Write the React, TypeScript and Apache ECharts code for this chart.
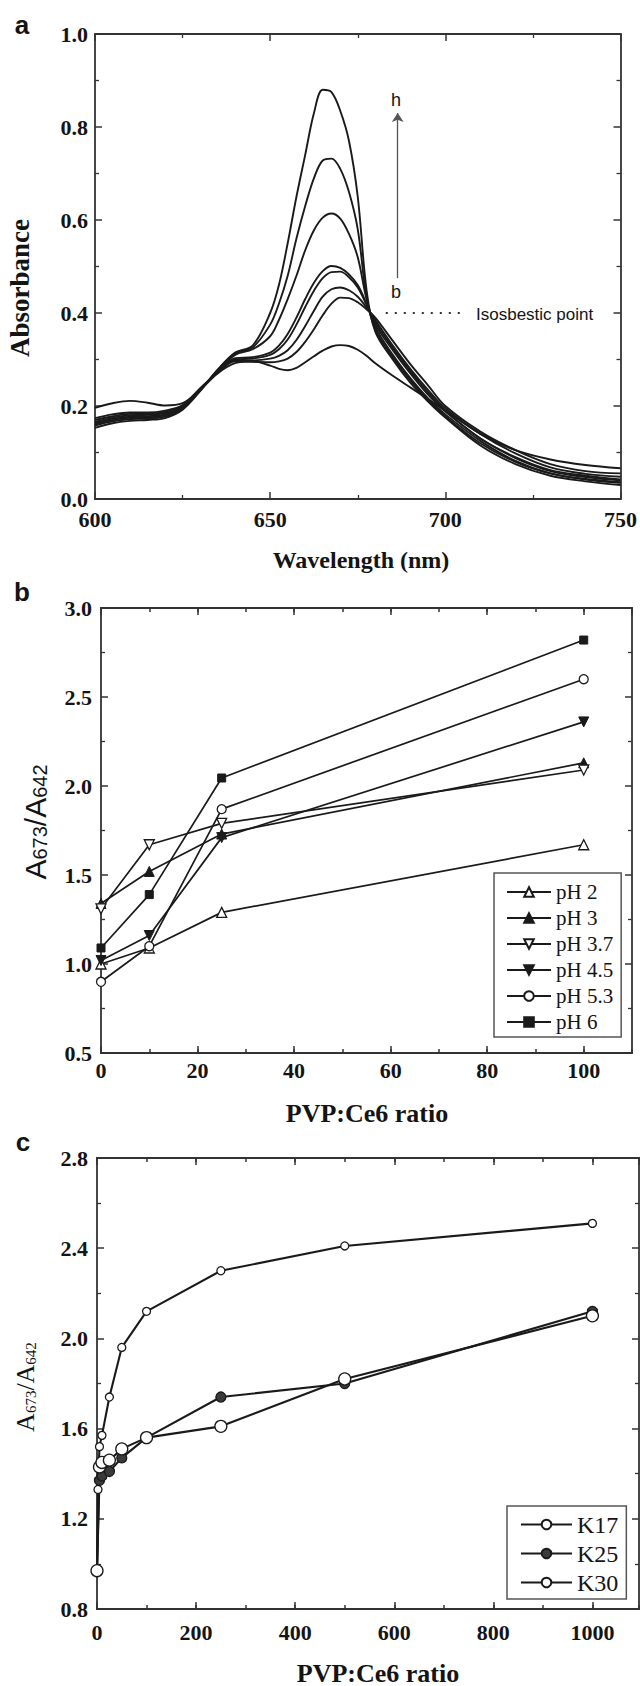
import React, { useEffect, useRef } from "react";
import * as echarts from "echarts";

// ---------- Panel a : absorption spectra ----------
const wavelengths = [600, 605, 610, 615, 620, 625, 630, 635, 640, 645, 650, 652.5, 655, 657.5, 660, 662.5, 665, 667.5, 670, 672.5, 675, 677.5, 680, 685, 690, 695, 700, 710, 720, 730, 740, 750];
const curveH = [0.153, 0.163, 0.168, 0.17, 0.174, 0.192, 0.232, 0.278, 0.315, 0.33, 0.4, 0.46, 0.55, 0.65, 0.74, 0.83, 0.88, 0.875, 0.835, 0.77, 0.65, 0.45, 0.36, 0.3, 0.25, 0.21, 0.175, 0.115, 0.075, 0.05, 0.038, 0.03];
const curveG = [0.158, 0.167, 0.172, 0.173, 0.177, 0.194, 0.233, 0.277, 0.313, 0.326, 0.375, 0.42, 0.48, 0.56, 0.63, 0.69, 0.728, 0.732, 0.71, 0.66, 0.58, 0.435, 0.365, 0.305, 0.255, 0.213, 0.178, 0.12, 0.08, 0.055, 0.042, 0.035];
const curveF = [0.16, 0.17, 0.175, 0.176, 0.18, 0.196, 0.234, 0.276, 0.31, 0.322, 0.35, 0.385, 0.43, 0.48, 0.535, 0.578, 0.605, 0.614, 0.603, 0.57, 0.52, 0.43, 0.37, 0.31, 0.26, 0.217, 0.182, 0.125, 0.082, 0.055, 0.043, 0.036];
const curveE = [0.163, 0.172, 0.177, 0.178, 0.182, 0.197, 0.235, 0.274, 0.303, 0.305, 0.315, 0.33, 0.355, 0.39, 0.43, 0.465, 0.49, 0.501, 0.497, 0.483, 0.46, 0.42, 0.375, 0.32, 0.27, 0.225, 0.188, 0.13, 0.088, 0.06, 0.047, 0.04];
const curveD = [0.166, 0.175, 0.18, 0.181, 0.185, 0.199, 0.236, 0.273, 0.3, 0.302, 0.31, 0.322, 0.343, 0.375, 0.413, 0.448, 0.475, 0.488, 0.489, 0.477, 0.455, 0.418, 0.38, 0.325, 0.275, 0.23, 0.19, 0.13, 0.09, 0.062, 0.05, 0.042];
const curveC = [0.17, 0.178, 0.183, 0.183, 0.187, 0.2, 0.237, 0.272, 0.298, 0.298, 0.302, 0.308, 0.32, 0.342, 0.372, 0.405, 0.435, 0.451, 0.455, 0.449, 0.435, 0.412, 0.385, 0.33, 0.28, 0.235, 0.195, 0.14, 0.098, 0.068, 0.054, 0.048];
const curveB = [0.174, 0.182, 0.186, 0.186, 0.19, 0.202, 0.238, 0.271, 0.296, 0.295, 0.294, 0.296, 0.302, 0.316, 0.338, 0.365, 0.395, 0.42, 0.433, 0.432, 0.423, 0.408, 0.39, 0.34, 0.29, 0.245, 0.2, 0.145, 0.105, 0.075, 0.06, 0.055];
const curveA = [0.196, 0.206, 0.211, 0.207, 0.201, 0.206, 0.235, 0.27, 0.292, 0.296, 0.287, 0.28, 0.277, 0.282, 0.294, 0.307, 0.319, 0.328, 0.331, 0.329, 0.321, 0.308, 0.292, 0.265, 0.24, 0.215, 0.19, 0.14, 0.105, 0.085, 0.073, 0.066];
const spectraNames = ["h", "g", "f", "e", "d", "c", "b", "a"];
const spectra = [curveH, curveG, curveF, curveE, curveD, curveC, curveB, curveA];
// annotation anchors (data coordinates)
const arrowWavelength = 686.4;
const arrowFrom = 0.475;
const arrowTo = 0.83;
const isosbesticValue = 0.4;
const isosbesticFrom = 683;
const isosbesticTo = 705.5;

// ---------- Panel b : ratio vs pH ----------
const ratioB = [0, 10, 25, 100];
const pH2 = [1.0, 1.09, 1.29, 1.67];
const pH3 = [1.34, 1.52, 1.73, 2.13];
const pH37 = [1.31, 1.67, 1.79, 2.09];
const pH45 = [1.02, 1.16, 1.71, 2.36];
const pH53 = [0.9, 1.1, 1.87, 2.6];
const pH6 = [1.09, 1.39, 2.045, 2.82];
const namesB = ["pH 2", "pH 3", "pH 3.7", "pH 4.5", "pH 5.3", "pH 6"];

// ---------- Panel c : ratio vs PVP grade ----------
const ratioK17 = [0, 2, 5, 10, 25, 50, 100, 250, 500, 1000];
const valK17 = [0.97, 1.33, 1.52, 1.57, 1.74, 1.96, 2.12, 2.3, 2.41, 2.51];
const ratioK25 = [0, 5, 10, 25, 50, 100, 250, 500, 1000];
const valK25 = [0.97, 1.37, 1.39, 1.41, 1.47, 1.56, 1.74, 1.8, 2.12];
const ratioK30 = [0, 5, 10, 25, 50, 100, 250, 500, 1000];
const valK30 = [0.97, 1.43, 1.45, 1.46, 1.51, 1.56, 1.61, 1.82, 2.1];
const namesC = ["K17", "K25", "K30"];

const SERIF = '"Liberation Serif", "Times New Roman", serif';
const SANS = '"Liberation Sans", Arial, sans-serif';
const INK = "#141414";
const AX = "#333333";
const LINE = "#1a1a1a";

const zip = (xs: number[], ys: number[]) => xs.map((x, i) => [x, ys[i]]);

function axis(
  gridIndex: number,
  position: string,
  min: number,
  max: number,
  interval: number,
  tickLen: number,
  label: any,
  minor: boolean
) {
  return {
    type: "value",
    gridIndex,
    position,
    min,
    max,
    interval,
    axisLine: { show: true, onZero: false, lineStyle: { color: AX, width: 1.8 } },
    axisTick: { show: true, inside: true, length: tickLen, lineStyle: { color: AX, width: 1.5 } },
    minorTick: { show: minor, splitNumber: 2, length: 4, lineStyle: { color: AX, width: 1.3 } },
    axisLabel: label
      ? {
          show: true,
          fontFamily: SERIF,
          fontWeight: "bold",
          fontSize: 22,
          color: INK,
          showMaxLabel: label.showMax !== false,
          margin: label.margin,
          formatter: label.fmt,
        }
      : { show: false },
    splitLine: { show: false },
    minorSplitLine: { show: false },
  };
}

const open = { color: "#ffffff", borderColor: LINE, borderWidth: 1.3 };
const filled = { color: LINE, borderColor: LINE, borderWidth: 1 };
const downTri = "path://M0,0L10,0L5,8.7Z";

export default function App() {
  const ref = useRef<HTMLDivElement>(null);

  useEffect(() => {
    if (!ref.current) return;
    const chart = echarts.init(ref.current, null, { renderer: "svg" });

    const fmt1 = (v: number) => v.toFixed(1);
    const fmt0 = (v: number) => String(Math.round(v));

    const xAxes = [
      // panel a (0,1)
      axis(0, "bottom", 600, 750, 50, 7, { margin: 9, fmt: fmt0 }, true),
      axis(0, "top", 600, 750, 50, 7, null, true),
      // panel b (2..5)
      axis(1, "bottom", 0, 110, 20, 7, { margin: 6, fmt: fmt0, showMax: false }, false),
      axis(1, "bottom", 0, 110, 10, 4, null, false),
      axis(1, "top", 0, 110, 20, 7, null, false),
      axis(1, "top", 0, 110, 10, 4, null, false),
      // panel c (6..9)
      axis(2, "bottom", 0, 1094, 200, 7, { margin: 12, fmt: fmt0, showMax: false }, false),
      axis(2, "bottom", 0, 1094, 100, 4, null, false),
      axis(2, "top", 0, 1094, 200, 7, null, false),
      axis(2, "top", 0, 1094, 100, 4, null, false),
    ];
    const yAxes = [
      axis(0, "left", 0, 1.0, 0.2, 7, { margin: 7, fmt: fmt1 }, true),
      axis(0, "right", 0, 1.0, 0.2, 7, null, true),
      axis(1, "left", 0.5, 3.0, 0.5, 7, { margin: 9, fmt: fmt1 }, true),
      axis(1, "right", 0.5, 3.0, 0.5, 7, null, true),
      axis(2, "left", 0.8, 2.8, 0.4, 7, { margin: 9, fmt: fmt1 }, true),
      axis(2, "right", 0.8, 2.8, 0.4, 7, null, true),
    ];

    const spectraSeries = spectra.map((vals, i) => {
      const s: any = {
        name: "curve " + spectraNames[i],
        type: "line",
        xAxisIndex: 0,
        yAxisIndex: 0,
        data: zip(wavelengths, vals),
        showSymbol: false,
        smooth: 0.35,
        lineStyle: { color: LINE, width: 1.9 },
        silent: true,
      };
      if (i === 0) {
        s.markLine = {
          silent: true,
          animation: false,
          label: { show: false },
          symbol: ["none", "arrow"],
          symbolSize: 9,
          lineStyle: { color: "#555", width: 1.3, type: "solid" },
          data: [[{ coord: [arrowWavelength, arrowFrom] }, { coord: [arrowWavelength, arrowTo] }]],
        };
      }
      if (i === 1) {
        s.markLine = {
          silent: true,
          animation: false,
          label: { show: false },
          symbol: ["none", "none"],
          lineStyle: { color: "#333", width: 2, type: [2, 7] },
          data: [[{ coord: [isosbesticFrom, isosbesticValue] }, { coord: [isosbesticTo, isosbesticValue] }]],
        };
      }
      return s;
    });

    const bDefs = [
      { name: namesB[0], vals: pH2, symbol: "triangle", size: 10, style: open },
      { name: namesB[1], vals: pH3, symbol: "triangle", size: 10, style: filled },
      { name: namesB[2], vals: pH37, symbol: downTri, size: 10, style: open },
      { name: namesB[3], vals: pH45, symbol: downTri, size: 10, style: filled },
      { name: namesB[4], vals: pH53, symbol: "circle", size: 9, style: open },
      { name: namesB[5], vals: pH6, symbol: "rect", size: 8, style: filled },
    ];
    const bSeries = bDefs.map((d) => ({
      name: d.name,
      type: "line",
      xAxisIndex: 2,
      yAxisIndex: 2,
      data: zip(ratioB, d.vals),
      symbol: d.symbol,
      symbolSize: d.size,
      showAllSymbol: true,
      lineStyle: { color: LINE, width: 1.7 },
      itemStyle: d.style,
      silent: true,
    }));

    const cDefs = [
      { name: namesC[0], xs: ratioK17, vals: valK17, size: 8, style: open },
      { name: namesC[1], xs: ratioK25, vals: valK25, size: 10, style: { color: "#3a3a3a", borderColor: LINE, borderWidth: 1.3 } },
      { name: namesC[2], xs: ratioK30, vals: valK30, size: 12, style: open },
    ];
    const cSeries = cDefs.map((d) => ({
      name: d.name,
      type: "line",
      xAxisIndex: 6,
      yAxisIndex: 4,
      data: zip(d.xs, d.vals),
      symbol: "circle",
      symbolSize: d.size,
      showAllSymbol: true,
      lineStyle: { color: LINE, width: 2.1 },
      itemStyle: d.style,
      silent: true,
    }));

    const txt = (text: string, x: number, y: number, size: number, opts: any = {}) => ({
      type: "text",
      x,
      y,
      rotation: opts.rotation || 0,
      silent: true,
      style: {
        text,
        fill: INK,
        fontFamily: opts.family || SERIF,
        fontWeight: opts.weight || "normal",
        fontSize: size,
        align: opts.align || "center",
        verticalAlign: "middle",
        rich: opts.rich,
      },
    });

    const richB = {
      m: { fontSize: 30, fontFamily: SANS, fill: INK, lineHeight: 30 },
      s: { fontSize: 20, fontFamily: SANS, fill: INK, lineHeight: 12, verticalAlign: "bottom" },
    };
    const richC = {
      m: { fontSize: 26, fontFamily: SERIF, fill: INK, lineHeight: 26 },
      s: { fontSize: 15, fontFamily: SERIF, fill: INK, lineHeight: 10, verticalAlign: "bottom" },
    };

    chart.setOption({
      animation: false,
      backgroundColor: "#ffffff",
      grid: [
        { left: 95, top: 34, width: 526, height: 465 },
        { left: 101, top: 608, width: 531, height: 445 },
        { left: 97, top: 1158, width: 542, height: 451 },
      ],
      xAxis: xAxes,
      yAxis: yAxes,
      legend: [
        {
          data: namesB,
          orient: "vertical",
          left: 494,
          top: 873,
          itemWidth: 44,
          itemHeight: 12,
          itemGap: 0,
          padding: [6, 8, 2, 12],
          borderColor: "#555",
          borderWidth: 1.5,
          selectedMode: false,
          textStyle: { fontFamily: SERIF, fontSize: 21, lineHeight: 26, color: INK },
        },
        {
          data: namesC,
          orient: "vertical",
          left: 507,
          top: 1506,
          itemWidth: 51,
          itemHeight: 12,
          itemGap: 0,
          padding: [4, 8, 2, 13],
          borderColor: "#555",
          borderWidth: 1.5,
          selectedMode: false,
          textStyle: { fontFamily: SERIF, fontSize: 24, lineHeight: 29, color: INK },
        },
      ],
      series: [...spectraSeries, ...bSeries, ...cSeries],
      graphic: [
        txt("a", 22, 25, 26, { family: SANS, weight: "bold" }),
        txt("b", 22, 592, 26, { family: SANS, weight: "bold" }),
        txt("c", 23, 1142, 26, { family: SANS, weight: "bold" }),
        txt("Absorbance", 20, 288, 27, { weight: "bold", rotation: Math.PI / 2 }),
        txt("Wavelength (nm)", 361, 560, 24, { weight: "bold" }),
        txt("PVP:Ce6 ratio", 367, 1113, 26, { weight: "bold" }),
        txt("PVP:Ce6 ratio", 378, 1673, 26, { weight: "bold" }),
        txt("{m|A}{s|673}{m|/A}{s|642}", 35, 822, 30, { family: SANS, rotation: Math.PI / 2, rich: richB }),
        txt("{m|A}{s|673}{m|/A}{s|642}", 25, 1387, 26, { rotation: Math.PI / 2, rich: richC }),
        txt("h", 396, 100, 18, { family: SANS }),
        txt("b", 396, 292, 18, { family: SANS }),
        txt("Isosbestic point", 476, 314, 17, { family: SANS, align: "left" }),
      ],
    });

    return () => chart.dispose();
  }, []);

  return (
    <div
      ref={ref}
      style={{ position: "absolute", left: 0, top: 0, width: 640, height: 1686, background: "#fff" }}
    />
  );
}
